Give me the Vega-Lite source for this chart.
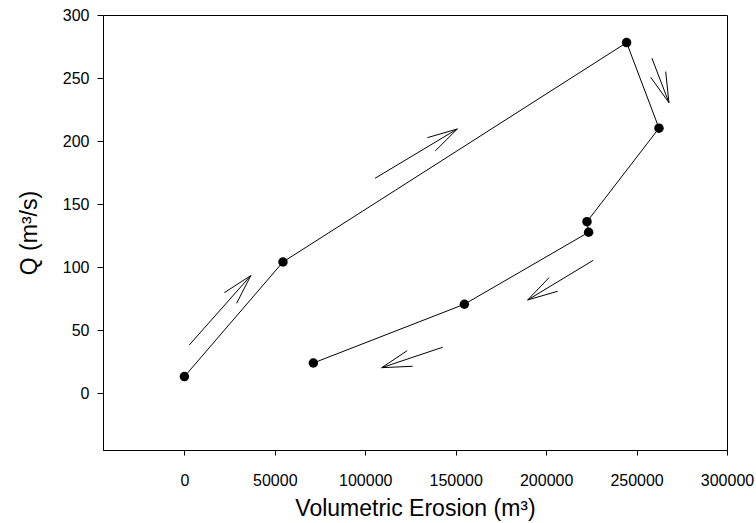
{
  "$schema": "https://vega.github.io/schema/vega-lite/v6.json",
  "width": 624,
  "height": 435,
  "autosize": {"type": "none"},
  "padding": {"left": 103, "top": 15, "right": 29, "bottom": 73},
  "background": "white",
  "config": {
    "font": "Liberation Sans",
    "view": {"stroke": "black", "strokeWidth": 1},
    "axis": {
      "grid": false,
      "domainColor": "black",
      "tickColor": "black",
      "labelColor": "black",
      "titleColor": "black",
      "labelFont": "Liberation Sans",
      "titleFont": "Liberation Sans",
      "labelFontSize": 16,
      "titleFontSize": 23,
      "titleFontWeight": "normal",
      "labelFlush": false,
      "labelOverlap": false
    }
  },
  "datasets": {
    "pts": [
      {"order": 1, "erosion": 0, "q": 13.2},
      {"order": 2, "erosion": 54500, "q": 104.1},
      {"order": 3, "erosion": 244500, "q": 278.1},
      {"order": 4, "erosion": 262400, "q": 210.2},
      {"order": 5, "erosion": 222600, "q": 136.1},
      {"order": 6, "erosion": 223500, "q": 127.7},
      {"order": 7, "erosion": 154800, "q": 70.6},
      {"order": 8, "erosion": 71300, "q": 24.0}
    ],
    "arrows": [
      {"x1": 2700, "y1": 38.3, "x2": 36700, "y2": 93.3},
      {"x1": 22100, "y1": 79.8, "x2": 36700, "y2": 93.3},
      {"x1": 28900, "y1": 71.4, "x2": 36700, "y2": 93.3},
      {"x1": 105400, "y1": 170.5, "x2": 150900, "y2": 209.6},
      {"x1": 134300, "y1": 202.7, "x2": 150900, "y2": 209.6},
      {"x1": 138700, "y1": 192.2, "x2": 150900, "y2": 209.6},
      {"x1": 258500, "y1": 265.7, "x2": 267900, "y2": 230.5},
      {"x1": 257800, "y1": 250.6, "x2": 267900, "y2": 230.5},
      {"x1": 266100, "y1": 255.1, "x2": 267900, "y2": 230.5},
      {"x1": 226100, "y1": 105.5, "x2": 189800, "y2": 74.0},
      {"x1": 201600, "y1": 91.7, "x2": 189800, "y2": 74.0},
      {"x1": 206400, "y1": 80.9, "x2": 189800, "y2": 74.0},
      {"x1": 142800, "y1": 36.5, "x2": 109100, "y2": 20.3},
      {"x1": 123200, "y1": 33.8, "x2": 109100, "y2": 20.3},
      {"x1": 126200, "y1": 21.4, "x2": 109100, "y2": 20.3}
    ]
  },
  "layer": [
    {
      "data": {"name": "pts"},
      "mark": {"type": "line", "color": "black", "strokeWidth": 1},
      "encoding": {
        "x": {
          "field": "erosion", "type": "quantitative",
          "scale": {"domain": [-45000, 300000], "nice": false, "zero": false},
          "axis": {"values": [0, 50000, 100000, 150000, 200000, 250000, 300000], "format": "d", "tickSize": 5, "labelPadding": 17, "titlePadding": 9},
          "title": "Volumetric Erosion (m³)"
        },
        "y": {
          "field": "q", "type": "quantitative",
          "scale": {"domain": [-45, 300], "nice": false, "zero": false},
          "axis": {"values": [0, 50, 100, 150, 200, 250, 300], "tickSize": 6, "labelPadding": 8, "titlePadding": 21},
          "title": "Q (m³/s)"
        },
        "order": {"field": "order", "type": "quantitative"}
      }
    },
    {
      "data": {"name": "pts"},
      "mark": {"type": "point", "filled": true, "color": "black", "opacity": 1, "size": 90},
      "encoding": {
        "x": {"field": "erosion", "type": "quantitative"},
        "y": {"field": "q", "type": "quantitative"}
      }
    },
    {
      "data": {"name": "arrows"},
      "mark": {"type": "rule", "color": "black", "strokeWidth": 1},
      "encoding": {
        "x": {"field": "x1", "type": "quantitative"},
        "y": {"field": "y1", "type": "quantitative"},
        "x2": {"field": "x2"},
        "y2": {"field": "y2"}
      }
    }
  ]
}
